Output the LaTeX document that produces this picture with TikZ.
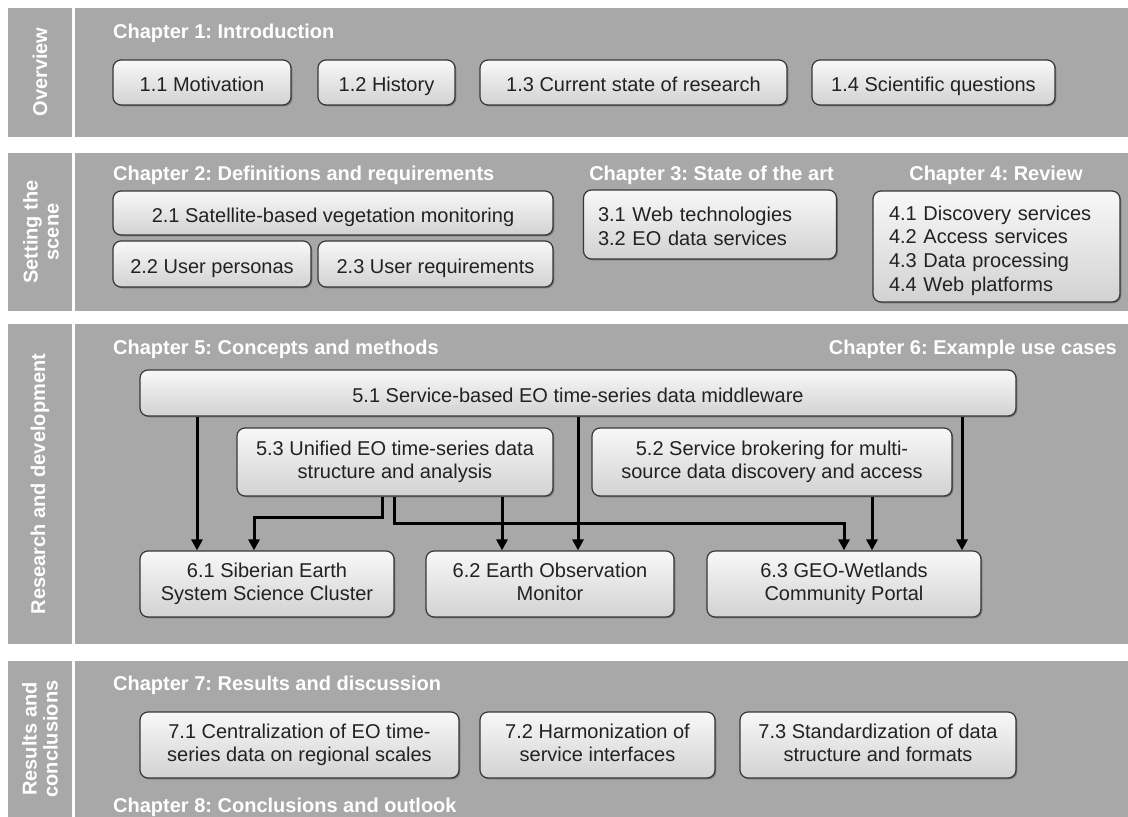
\documentclass[tikz,border=0pt]{standalone}
\usepackage{fontspec}
\setmainfont{Liberation Sans}
\usetikzlibrary{arrows.meta,shadows}
\definecolor{panel}{RGB}{168,168,168}
\definecolor{ink}{RGB}{34,34,34}
\definecolor{edge}{RGB}{55,55,55}
\definecolor{boxtop}{RGB}{248,248,248}
\definecolor{boxbot}{RGB}{210,210,210}
\newcommand\boxfnt{\fontsize{20}{23.7}\selectfont\frenchspacing}
\newcommand\headfnt{\fontsize{20}{21}\selectfont\bfseries\frenchspacing}
% struts that fix the first line's height and the last line's depth
\newcommand\topstrut{\rule{0pt}{22.8pt}}
\newcommand\botstrut{\rule[-4.5pt]{0pt}{4.5pt}}
\begin{document}
\begin{tikzpicture}[x=1pt,y=-1pt,
  box/.style={draw=edge, line width=1.2pt, rounded corners=8pt,
    top color=boxtop, bottom color=boxbot, text=ink, font=\boxfnt,
    align=center, inner sep=0pt,
    execute at begin node=\topstrut, execute at end node=\botstrut,
    drop shadow={shadow xshift=1.3pt, shadow yshift=-1.3pt, opacity=0.3, fill=black}},
  chap/.style={font=\headfnt, text=white, inner sep=0pt},
  side/.style={font=\headfnt, text=white, rotate=90, align=center, inner sep=0pt},
  arr/.style={line width=3pt, draw=black, -{Triangle[length=11pt,width=11pt]}},
]
\useasboundingbox (0,0) rectangle (1128,817);
\fill[white] (0,0) rectangle (1128,817);

% band backgrounds
\fill[panel] (8,8) rectangle (72,137);
\fill[panel] (75,8) rectangle (1128,137);
\fill[panel] (8,153) rectangle (72,311);
\fill[panel] (75,153) rectangle (1128,311);
\fill[panel] (8,324) rectangle (72,644);
\fill[panel] (75,324) rectangle (1128,644);
\fill[panel] (8,661) rectangle (72,817);
\fill[panel] (75,661) rectangle (1128,817);

% side labels
\node[side] (sOverview) at (40,72) {Overview};
\node[side] (sScene) at (41,232) {Setting the\\scene};
\node[side] (sRD) at (40,484) {Research and development};
\node[side] (sRC) at (40,739) {Results and\\conclusions};

% overview
\node[chap, anchor=west] (c1) at (113,33) {Chapter 1: Introduction};
\node[box, minimum width=178pt, minimum height=45pt] (n11) at (202,82.5) {1.1 Motivation};
\node[box, minimum width=137pt, minimum height=45pt] (n12) at (386.5,82.5) {1.2 History};
\node[box, minimum width=307pt, minimum height=45pt] (n13) at (633.5,82.5) {1.3 Current state of research};
\node[box, minimum width=243pt, minimum height=45pt] (n14) at (933.5,82.5) {1.4 Scientific questions};

% setting the scene
\node[chap, anchor=west] (c2) at (113,175) {Chapter 2: Definitions and requirements};
\node[chap] (c3) at (711.5,175) {Chapter 3: State of the art};
\node[chap] (c4) at (996,175) {Chapter 4: Review};
\node[box, minimum width=440pt, minimum height=44pt] (n21) at (333,213) {2.1 Satellite-based vegetation monitoring};
\node[box, minimum width=198pt, minimum height=46pt] (n22) at (212,264) {2.2 User personas};
\node[box, minimum width=235pt, minimum height=46pt] (n23) at (435.5,264) {2.3 User requirements};
\node[box, minimum width=253pt, minimum height=69pt, text width=224pt, align=left] (n31) at (710,224.5)
  {3.1 Web technologies\\3.2 EO data services};
\node[box, minimum width=247pt, minimum height=111pt, text width=215pt, align=left] (n41) at (996.5,246.5)
  {4.1 Discovery services\\4.2 Access services\\4.3 Data processing\\4.4 Web platforms};

% research and development
\node[chap, anchor=west] (c5) at (113,349) {Chapter 5: Concepts and methods};
\node[chap, anchor=east] (c6) at (1117,349) {Chapter 6: Example use cases};
\node[box, minimum width=876pt, minimum height=46pt] (n51) at (578,393) {5.1 Service-based EO time-series data middleware};
\node[box, minimum width=316pt, minimum height=68pt] (n53) at (395,462) {5.3 Unified EO time-series data\\structure and analysis};
\node[box, minimum width=360pt, minimum height=68pt] (n52) at (772,462) {5.2 Service brokering for multi-\\source data discovery and access};
\node[box, minimum width=254pt, minimum height=66pt] (n61) at (267,584) {6.1 Siberian Earth\\System Science Cluster};
\node[box, minimum width=248pt, minimum height=66pt] (n62) at (550,584) {6.2 Earth Observation\\Monitor};
\node[box, minimum width=274pt, minimum height=66pt] (n63) at (844,584) {6.3 GEO-Wetlands\\Community Portal};

% connector columns and elbows
\coordinate (xa) at (197,0);
\coordinate (xb) at (578,0);
\coordinate (xc) at (962,0);
\coordinate (xd) at (502,0);
\coordinate (xe) at (872,0);
\coordinate (xf) at (382,0);
\coordinate (xg) at (394,0);
\coordinate (ka) at (254,517);
\coordinate (kb) at (844,523);

\draw[arr] (n51.south -| xa) -- (n61.north -| xa);
\draw[arr] (n51.south -| xb) -- (n62.north -| xb);
\draw[arr] (n51.south -| xc) -- (n63.north -| xc);
\draw[arr] (n53.south -| xd) -- (n62.north -| xd);
\draw[arr] (n52.south -| xe) -- (n63.north -| xe);
\draw[arr] (n53.south -| xf) |- (ka) -- (n61.north -| ka);
\draw[arr] (n53.south -| xg) |- (kb) -- (n63.north -| kb);

% results and conclusions
\node[chap, anchor=west] (c7) at (113,685) {Chapter 7: Results and discussion};
\node[box, minimum width=319pt, minimum height=66pt] (n71) at (299.5,745) {7.1 Centralization of EO time-\\series data on regional scales};
\node[box, minimum width=235pt, minimum height=66pt] (n72) at (597.5,745) {7.2 Harmonization of\\service interfaces};
\node[box, minimum width=276pt, minimum height=66pt] (n73) at (878,745) {7.3 Standardization of data\\structure and formats};
\node[chap, anchor=west] (c8) at (113,807) {Chapter 8: Conclusions and outlook};
\end{tikzpicture}
\end{document}
